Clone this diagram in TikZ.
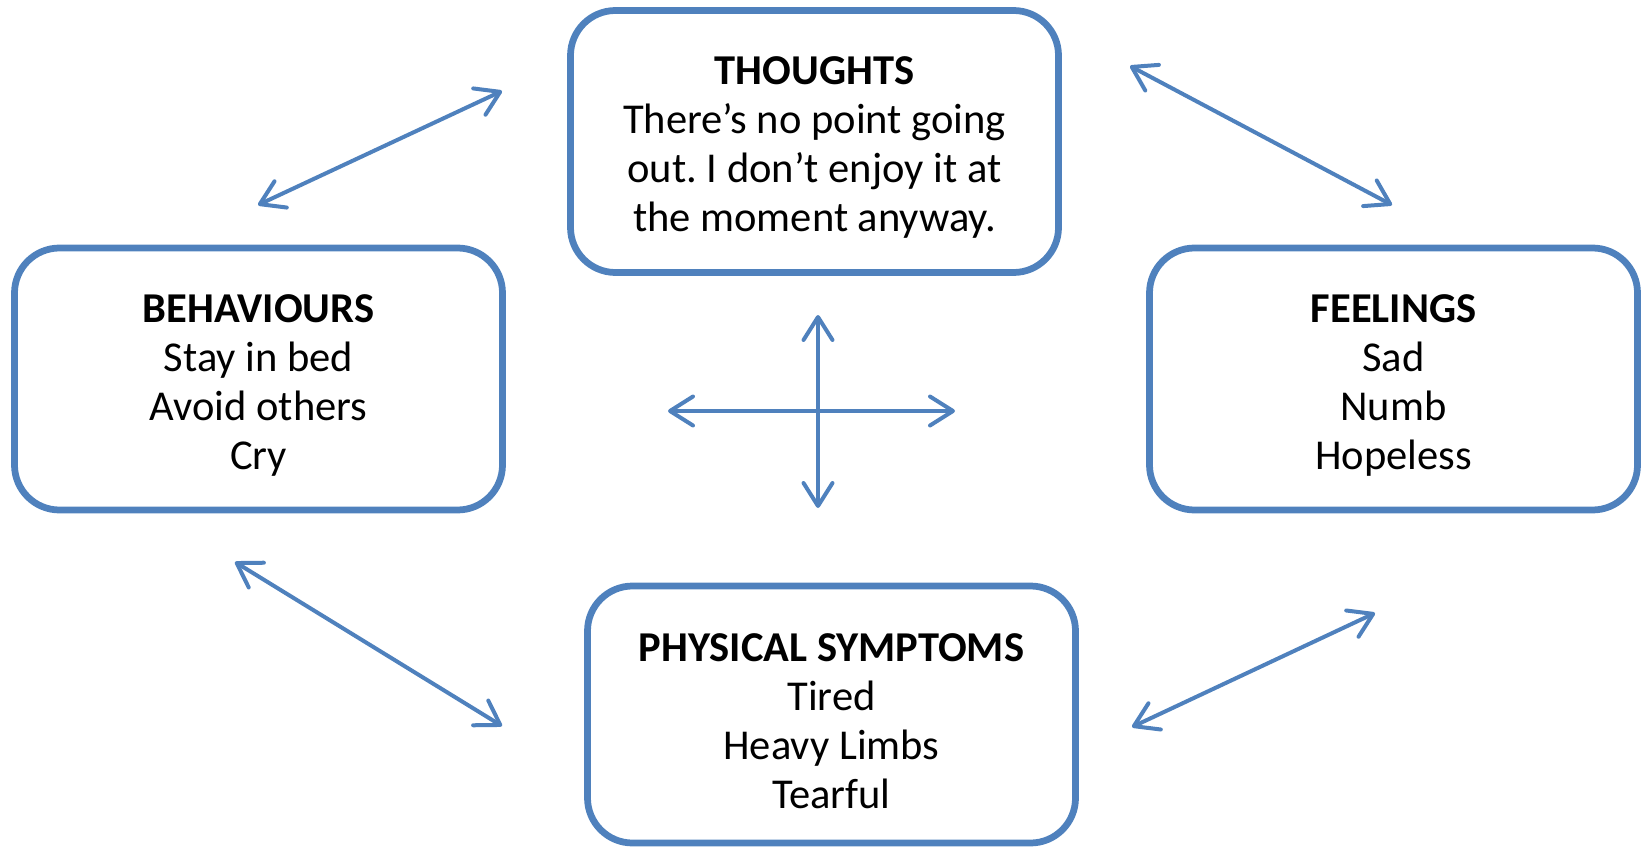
\documentclass[tikz,border=0pt]{standalone}
\usepackage{fontspec}
\setmainfont{Carlito}
\usetikzlibrary{arrows.meta, positioning}
\frenchspacing

\definecolor{cbtblue}{HTML}{4F81BD}
\newcommand{\areahead}[1]{\rule{0pt}{23pt}\textbf{#1}}

\begin{document}
\begin{tikzpicture}[
    panel/.style={rectangle, draw=cbtblue, line width=0.135cm, rounded corners=0.9cm,
        minimum width=9.76cm, minimum height=5.24cm, align=center,
        font=\fontsize{24.2}{27.9}\selectfont},
    link/.style={draw=cbtblue, line width=0.08cm, line cap=round,
        {Straight Barb[length=0.46cm, width=0.58cm, round]}-{Straight Barb[length=0.46cm, width=0.58cm, round]}}
]
    \useasboundingbox (0,0) rectangle (32.82,16.96);

    % Define nodes for the four areas
    \node[panel] (thoughts) at (16.29, 14.13) {\areahead{THOUGHTS}\\There’s no point going\\out. I don’t enjoy it at\\the moment anyway.};
    \node[panel] (behaviours) at (5.17, 9.38) {\areahead{BEHAVIOURS}\\Stay in bed\\Avoid others\\Cry};
    \node[panel] (feelings) at (27.87, 9.38) {\areahead{FEELINGS}\\Sad\\Numb\\Hopeless};
    \node[panel, minimum height=5.14cm] (physical) at (16.63, 2.67) {\areahead{PHYSICAL SYMPTOMS}\\Tired\\Heavy Limbs\\Tearful};

    % Free ends of the double arrows
    \coordinate (tl1) at (5.16, 12.86);
    \coordinate (tl2) at (10.04, 15.14);
    \coordinate (tr1) at (22.60, 15.64);
    \coordinate (tr2) at (27.84, 12.86);
    \coordinate (bl1) at (4.70, 5.72);
    \coordinate (bl2) at (10.04, 2.44);
    \coordinate (br1) at (22.64, 2.42);
    \coordinate (br2) at (27.50, 4.70);
    \coordinate (up) at (16.36, 10.66);
    \coordinate (down) at (16.36, 6.80);
    \coordinate (left) at (13.36, 8.74);
    \coordinate (right) at (19.10, 8.74);

    % Arrows between the areas
    \draw[link] (tl1) -- (tl2);
    \draw[link] (tr1) -- (tr2);
    \draw[link] (bl1) -- (bl2);
    \draw[link] (br1) -- (br2);

    % Central cross
    \draw[link] (up) -- (down);
    \draw[link] (left) -- (right);

\end{tikzpicture}
\end{document}
